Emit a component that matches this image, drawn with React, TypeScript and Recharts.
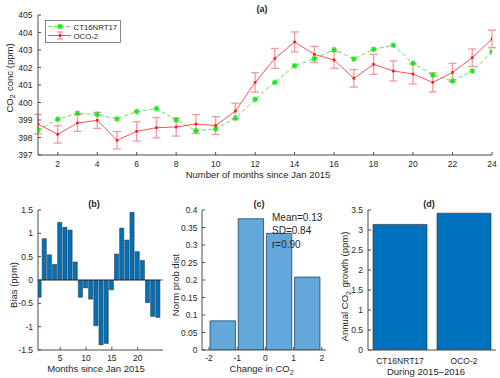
import React from 'react'
import {
  ComposedChart,
  BarChart,
  Bar,
  Line,
  ErrorBar,
  XAxis,
  YAxis,
  ReferenceLine,
  Legend,
} from 'recharts'

// (a) monthly CO2 concentration
const months = [1, 2, 3, 4, 5, 6, 7, 8, 9, 10, 11, 12, 13, 14, 15, 16, 17, 18, 19, 20, 21, 22, 23, 24]
const ct16nrt17 = [
  398.43, 399.04, 399.38, 399.32, 399.06, 399.48, 399.65, 399.0, 398.39, 398.49, 399.1, 400.18,
  401.15, 402.1, 402.5, 403.02, 402.49, 403.04, 403.27, 402.24, 401.57, 401.23, 401.8, 402.9,
]
const oco2 = [
  398.77, 398.18, 398.83, 398.98, 397.84, 398.35, 398.56, 398.6, 398.77, 398.68, 399.51, 401.15,
  402.52, 403.46, 402.75, 402.43, 401.38, 402.18, 401.8, 401.63, 401.15, 401.72, 402.56, 403.63,
]
const oco2Err = [
  0.55, 0.5, 0.48, 0.46, 0.5, 0.55, 0.58, 0.52, 0.54, 0.51, 0.45, 0.56, 0.57, 0.57, 0.46, 0.48,
  0.5, 0.57, 0.57, 0.57, 0.54, 0.52, 0.5, 0.5,
]
const concTicks = [397, 398, 399, 400, 401, 402, 403, 404, 405]
const monthTicks = [2, 4, 6, 8, 10, 12, 14, 16, 18, 20, 22, 24]

// (b) bias
const bias = [
  -0.37, 0.886, 0.54, 0.336, 1.236, 1.13, 1.07, 0.386, -0.37, -0.17, -0.41, -0.98, -1.39, -1.36,
  -0.21, 0.557, 1.114, 0.857, 1.45, 0.607, 0.42, -0.486, -0.78, -0.8,
]
const biasTicks = [-1.5, -1, -0.5, 0, 0.5, 1, 1.5]
const biasMonthTicks = [5, 10, 15, 20]

// (c) histogram of change
const histCenters = [-1.5, -0.5, 0.5, 1.5]
const histProb = [0.0833, 0.375, 0.3333, 0.2083]
const probTicks = [0, 0.05, 0.1, 0.15, 0.2, 0.25, 0.3, 0.35, 0.4]
const changeTicks = [-2, -1, 0, 1, 2]
const statsLines = ['Mean=0.13', 'SD=0.84', 'r=0.90']

// (d) annual growth
const growthNames = ['CT16NRT17', 'OCO-2']
const growthValues = [3.14, 3.42]
const growthTicks = [0, 0.5, 1, 1.5, 2, 2.5, 3, 3.5]

const concData = months.map((m, i) => ({ month: m, ct: ct16nrt17[i], oco: oco2[i], err: oco2Err[i] }))
const biasData = months.map((m, i) => ({ month: m, bias: bias[i] }))
const histData = histCenters.map((c, i) => ({ c, p: histProb[i] }))
const growthData = growthNames.map((n, i) => ({ name: n, v: growthValues[i] }))

const FONT = '"Liberation Sans", Arial, Helvetica, sans-serif'
const AX = '#4d4d4d'
const TXT = '#262626'
const tickStyle = { fontSize: 8.5, fill: TXT, fontFamily: FONT }

const Star = (props: any) => {
  const { cx, cy } = props
  if (cx == null || cy == null) return <g />
  const r = 2.8
  const d = r * 0.72
  return (
    <g stroke="#22e022" strokeWidth={1.3}>
      <line x1={cx - r} y1={cy} x2={cx + r} y2={cy} />
      <line x1={cx} y1={cy - r} x2={cx} y2={cy + r} />
      <line x1={cx - d} y1={cy - d} x2={cx + d} y2={cy + d} />
      <line x1={cx - d} y1={cy + d} x2={cx + d} y2={cy - d} />
    </g>
  )
}

const RedDot = (props: any) => {
  const { cx, cy } = props
  if (cx == null || cy == null) return <g />
  return <rect x={cx - 1.3} y={cy - 1.3} width={2.6} height={2.6} fill="#ff1a1a" />
}

const LegendBox = () => (
  <svg width={76} height={23} style={{ display: 'block' }}>
    <rect x={0.5} y={0.5} width={75} height={22} fill="#fff" stroke="#333" strokeWidth={0.6} />
    <line x1={3} y1={6.5} x2={26} y2={6.5} stroke="#5ce65c" strokeWidth={1} strokeDasharray="4 2" />
    <Star cx={15} cy={6.5} />
    <text x={28.5} y={9.5} fontSize={7.8} fill={TXT} fontFamily={FONT}>CT16NRT17</text>
    <line x1={3} y1={15.5} x2={26} y2={15.5} stroke="#ff4040" strokeWidth={0.9} />
    <g stroke="#f49a9a" strokeWidth={1.3}>
      <line x1={15} y1={12} x2={15} y2={19} />
      <line x1={12} y1={12} x2={18} y2={12} />
      <line x1={12} y1={19} x2={18} y2={19} />
    </g>
    <RedDot cx={15} cy={15.5} />
    <text x={28.5} y={18.5} fontSize={7.8} fill={TXT} fontFamily={FONT}>OCO-2</text>
  </svg>
)

const title = (x: number, y: number, s: string) => (
  <text x={x} y={y} textAnchor="middle" fontSize={9} fontWeight="bold" fill={TXT} fontFamily={FONT}>
    {s}
  </text>
)

const vLabel = (x: number, y: number, children: React.ReactNode) => (
  <text
    x={x}
    y={y}
    transform={`rotate(-90 ${x} ${y})`}
    textAnchor="middle"
    fontSize={9.5}
    fill={TXT}
    fontFamily={FONT}
  >
    {children}
  </text>
)

const hLabel = (x: number, y: number, children: React.ReactNode) => (
  <text x={x} y={y} textAnchor="middle" fontSize={9.5} fill={TXT} fontFamily={FONT}>
    {children}
  </text>
)

const sub = (s: string) => (
  <>
    <tspan dy={2.5} fontSize={7}>{s}</tspan>
    <tspan dy={-2.5}>{'\u200a'}</tspan>
  </>
)

export default function App() {
  return (
    <div style={{ position: 'absolute', left: 0, top: 0, width: 500, height: 378, background: '#fff' }}>
      {/* (a) */}
      <div style={{ position: 'absolute', left: 0, top: 0 }}>
        <ComposedChart width={500} height={190} data={concData} margin={{ top: 15, right: 8, bottom: 0, left: 0 }}>
          <XAxis
            dataKey="month"
            type="number"
            domain={[1, 24]}
            ticks={monthTicks}
            height={35}
            tickSize={-3}
            tickMargin={9}
            tick={tickStyle}
            stroke={AX}
            allowDataOverflow
          />
          <XAxis xAxisId="top" orientation="top" type="number" domain={[1, 24]} ticks={monthTicks} height={0} tickSize={-3} tick={false} stroke={AX} allowDataOverflow />
          <YAxis
            type="number"
            domain={[397, 405]}
            ticks={concTicks}
            width={38}
            tickSize={-3}
            tickMargin={8.5}
            tick={tickStyle}
            stroke={AX}
            allowDataOverflow
          />
          <YAxis yAxisId="right" orientation="right" type="number" domain={[397, 405]} ticks={concTicks} width={0} tickSize={-3} tick={false} stroke={AX} allowDataOverflow />
          <Line
            dataKey="ct"
            stroke="#5ce65c"
            strokeWidth={1}
            strokeDasharray="4 2.5"
            dot={<Star />}
            isAnimationActive={false}
          />
          <Line dataKey="oco" stroke="#ff4040" strokeWidth={0.9} dot={<RedDot />} isAnimationActive={false}>
            <ErrorBar dataKey="err" direction="y" width={4} stroke="#f49a9a" strokeWidth={1.3} />
          </Line>
          <Legend
            layout="vertical"
            align="center"
            verticalAlign="middle"
            content={() => <LegendBox />}
            wrapperStyle={{ left: 45, top: 20, width: 76, height: 23 }}
          />
          {title(262, 11.5, '(a)')}
          {vLabel(12.5, 78, <>CO{sub('2')} conc (ppm)</>)}
          {hLabel(258, 177.5, 'Number of months since Jan 2015')}
        </ComposedChart>
      </div>

      {/* (b) */}
      <div style={{ position: 'absolute', left: 0, top: 190 }}>
        <BarChart width={170} height={188} data={biasData} margin={{ top: 20, right: 7, bottom: 0, left: 0 }}>
          <XAxis
            dataKey="month"
            type="number"
            domain={[0.7, 24.9]}
            ticks={biasMonthTicks}
            height={28}
            tickSize={-3}
            tickMargin={7.5}
            tick={tickStyle}
            stroke={AX}
            allowDataOverflow
          />
          <XAxis xAxisId="top" orientation="top" type="number" domain={[0.7, 24.9]} ticks={biasMonthTicks} height={0} tickSize={-3} tick={false} stroke={AX} allowDataOverflow />
          <YAxis
            type="number"
            domain={[-1.5, 1.5]}
            ticks={biasTicks}
            width={38}
            tickSize={-3}
            tickMargin={8}
            tick={tickStyle}
            stroke={AX}
            allowDataOverflow
          />
          <YAxis yAxisId="right" orientation="right" type="number" domain={[-1.5, 1.5]} ticks={biasTicks} width={0} tickSize={-3} tick={false} stroke={AX} allowDataOverflow />
          <Bar dataKey="bias" fill="#0072bd" stroke="#2a2a2a" strokeWidth={0.5} barSize={4.2} isAnimationActive={false} />
          <ReferenceLine y={0} stroke="#262626" strokeWidth={0.8} />
          {title(94, 16.5, '(b)')}
          {vLabel(16.5, 95, 'Bias (ppm)')}
          {hLabel(96, 182, 'Months since Jan 2015')}
        </BarChart>
      </div>

      {/* (c) */}
      <div style={{ position: 'absolute', left: 160, top: 190 }}>
        <BarChart width={170} height={188} data={histData} margin={{ top: 20, right: 4, bottom: 0, left: 0 }}>
          <XAxis
            dataKey="c"
            type="number"
            domain={[-2.25, 2.15]}
            ticks={changeTicks}
            height={28}
            tickSize={-3}
            tickMargin={7.5}
            tick={tickStyle}
            stroke={AX}
            allowDataOverflow
          />
          <XAxis xAxisId="top" orientation="top" type="number" domain={[-2.25, 2.15]} ticks={changeTicks} height={0} tickSize={-3} tick={false} stroke={AX} allowDataOverflow />
          <YAxis
            type="number"
            domain={[0, 0.4]}
            ticks={probTicks}
            width={42}
            tickSize={-3}
            tickMargin={7.5}
            tick={tickStyle}
            stroke={AX}
            allowDataOverflow
          />
          <YAxis yAxisId="right" orientation="right" type="number" domain={[0, 0.4]} ticks={probTicks} width={0} tickSize={-3} tick={false} stroke={AX} allowDataOverflow />
          <Bar dataKey="p" fill="#62a8da" stroke="#23435e" strokeWidth={0.8} barSize={28.2} isAnimationActive={false} />
          {title(99, 16.5, '(c)')}
          {vLabel(18.5, 95, 'Norm prob dist')}
          {hLabel(102, 182, <>Change in CO{sub('2')}</>)}
        </BarChart>
        {/* stats text sits above the bars */}
        <svg width={170} height={80} style={{ position: 'absolute', left: 0, top: 0, pointerEvents: 'none' }}>
          {statsLines.map((s, i) => (
            <text key={s} x={112} y={30.5 + i * 13.6} fontSize={10} fill={TXT} fontFamily={FONT}>
              {s}
            </text>
          ))}
        </svg>
      </div>

      {/* (d) */}
      <div style={{ position: 'absolute', left: 330, top: 190 }}>
        <BarChart width={170} height={188} data={growthData} margin={{ top: 20, right: 4, bottom: 0, left: 0 }}>
          <XAxis
            dataKey="name"
            height={28}
            tickSize={-3}
            tickMargin={11}
            tick={tickStyle}
            stroke={AX}
          />
          <XAxis xAxisId="top" orientation="top" dataKey="name" height={0} tickSize={-3} tick={false} stroke={AX} />
          <YAxis
            type="number"
            domain={[0, 3.5]}
            ticks={growthTicks}
            width={38}
            tickSize={-3}
            tickMargin={8}
            tick={tickStyle}
            stroke={AX}
            allowDataOverflow
          />
          <YAxis yAxisId="right" orientation="right" type="number" domain={[0, 3.5]} ticks={growthTicks} width={0} tickSize={-3} tick={false} stroke={AX} allowDataOverflow />
          <Bar dataKey="v" fill="#0072bd" stroke="#2a2a2a" strokeWidth={0.6} barSize={54} isAnimationActive={false} />
          {title(99, 16.5, '(d)')}
          {vLabel(18, 96.5, <>Annual CO{sub('2')} growth (ppm)</>)}
          {hLabel(96, 185, 'During 2015\u20132016')}
        </BarChart>
      </div>
    </div>
  )
}
